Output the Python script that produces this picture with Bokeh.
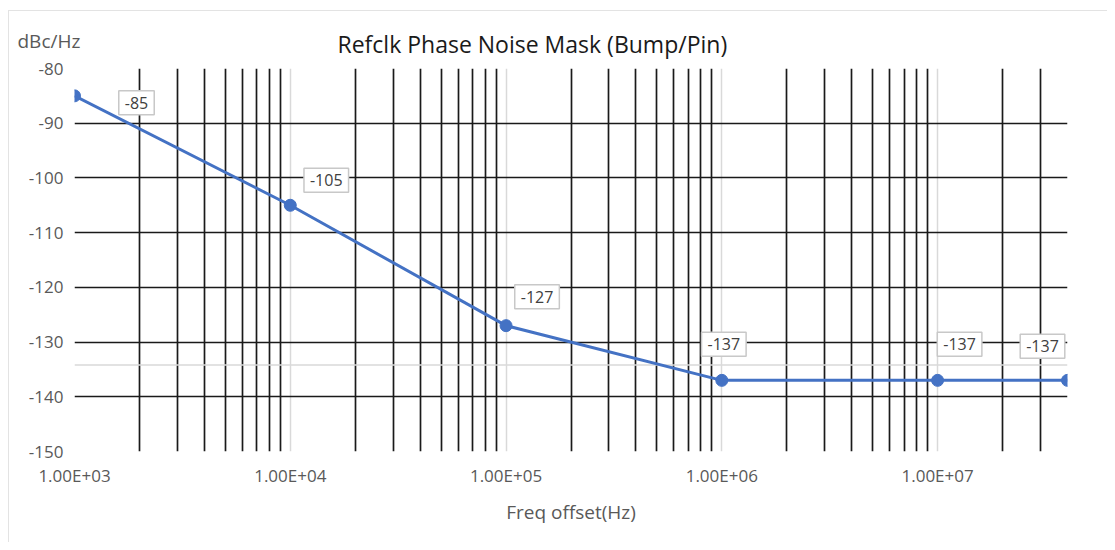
from bokeh.plotting import figure
from bokeh.models import FixedTicker, CustomJSTickFormatter, Label, Span, Range1d, Title
from bokeh.embed import file_html
from bokeh.resources import INLINE

# ---- data ----
freq_hz = [1e3, 1e4, 1e5, 1e6, 1e7, 4e7]
noise_dbc = [-85, -105, -127, -137, -137, -137]
x_ticks = [1e3, 1e4, 1e5, 1e6, 1e7]
y_ticks = [-150, -140, -130, -120, -110, -100, -90, -80]
title_text = "Refclk Phase Noise Mask (Bump/Pin)"
x_title = "Freq offset(Hz)"
y_title = "dBc/Hz"
ref_line_db = -134.2

# ---- label placement (pixel offsets from each point) ----
label_dx = [62, 36, 31, 2, 22, -25]
label_dy = [-7, 25, 29, 36, 36, 34]

FONT = "Open Sans"
GRAY_TXT = "#595959"
FW, FH = 993, 383

minor = [m * 10 ** k for k in range(3, 8) for m in range(2, 10) if m * 10 ** k <= max(freq_hz)]

p = figure(
    x_axis_type="log",
    x_range=Range1d(min(freq_hz), max(freq_hz)),
    y_range=Range1d(min(y_ticks), max(y_ticks)),
    frame_width=FW, frame_height=FH,
    min_border_left=65, min_border_right=40, min_border_top=57, min_border_bottom=91,
    output_backend="svg", toolbar_location=None,
    title=title_text,
    styles={"margin-left": "8px", "margin-top": "10px",
            "border-top": "1px solid #e3e3e3", "border-left": "1px solid #e3e3e3"},
)
p.outline_line_color = None
p.background_fill_color = "white"
p.border_fill_color = "white"

p.title.text_font = FONT
p.title.text_font_size = "23px"
p.title.text_font_style = "normal"
p.title.text_color = "#1a1a1a"
p.title.align = "left"
p.title.offset = 263
p.title.vertical_align = "bottom"
p.title.standoff = -94

# y unit caption as a second title (sits next to the frame, centred in a 56px band)
p.add_layout(Title(
    text=y_title, align="left", offset=-57, vertical_align="middle", standoff=28,
    text_font=FONT, text_font_size="19px", text_font_style="normal", text_color=GRAY_TXT,
), "above")

# grids
p.xgrid.ticker = FixedTicker(ticks=x_ticks, minor_ticks=minor)
p.xgrid.grid_line_color = "#d9d9d9"
p.xgrid.grid_line_width = 1.5
p.xgrid.minor_grid_line_color = "#1a1a1a"
p.xgrid.minor_grid_line_width = 1.7
p.ygrid.ticker = FixedTicker(ticks=y_ticks)
p.ygrid.grid_line_color = "#1a1a1a"
p.ygrid.grid_line_width = 1.7
p.add_layout(Span(location=ref_line_db, dimension="width", line_color="#d9d9d9", line_width=1.5, level="underlay"))

# axes
for ax in (p.xaxis[0], p.yaxis[0]):
    ax.axis_line_color = None
    ax.major_tick_line_color = None
    ax.minor_tick_line_color = None
    ax.major_tick_in = 0
    ax.major_tick_out = 0
    ax.minor_tick_in = 0
    ax.minor_tick_out = 0
    ax.major_label_text_font = FONT
    ax.major_label_text_font_size = "17px"
    ax.major_label_text_color = GRAY_TXT

p.xaxis.ticker = FixedTicker(ticks=x_ticks)
p.xaxis.formatter = CustomJSTickFormatter(code="""
    var s = tick.toExponential(2).toUpperCase();
    return s.replace(/E([+-])(\\d)$/, 'E$10$2');
""")
p.xaxis.major_label_standoff = 12
p.xaxis.axis_label = x_title
p.xaxis.axis_label_text_font = FONT
p.xaxis.axis_label_text_font_size = "19px"
p.xaxis.axis_label_text_font_style = "normal"
p.xaxis.axis_label_text_color = GRAY_TXT
p.xaxis.axis_label_standoff = 9

p.yaxis.ticker = FixedTicker(ticks=y_ticks)
p.yaxis.formatter = CustomJSTickFormatter(code="return String(tick);")
p.yaxis.major_label_standoff = 11

# series
p.line(freq_hz, noise_dbc, line_color="#4472C4", line_width=3)
p.scatter(freq_hz, noise_dbc, size=12, color="#4472C4")

# data labels
for f, v, dx, dy in zip(freq_hz, noise_dbc, label_dx, label_dy):
    p.add_layout(Label(
        x=f, y=v, x_offset=dx, y_offset=dy, text=str(int(v)),
        text_align="center", text_baseline="middle",
        text_font=FONT, text_font_size="16px", text_color="#404040",
        background_fill_color="white", border_line_color="#c8c8c8", border_line_width=1.5,
        padding=6,
    ))

open("out.html", "w").write(file_html(p, INLINE))
